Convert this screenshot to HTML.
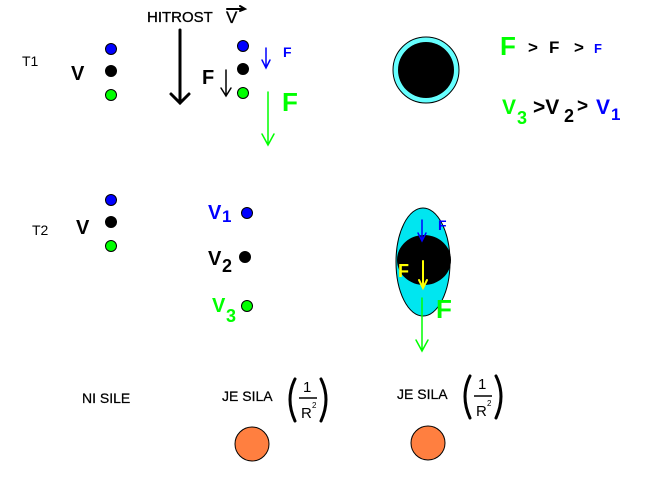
<!DOCTYPE html>
<html><head><meta charset="utf-8"><style>
html,body{margin:0;padding:0;background:#fff;}
svg{display:block;}
text{font-family:"Liberation Sans",Arial,sans-serif;}
</style></head><body>
<svg width="653" height="487" viewBox="0 0 653 487" xmlns="http://www.w3.org/2000/svg">
<rect width="653" height="487" fill="#fff"/>
<g stroke="#000" stroke-width="1">
<circle cx="111" cy="49" r="5.5" fill="#0000ff"/>
<circle cx="111" cy="71" r="5.5" fill="#000"/>
<circle cx="111" cy="95" r="5.5" fill="#00ff00"/>
<circle cx="243" cy="46" r="5.5" fill="#0000ff"/>
<circle cx="243" cy="69" r="5.5" fill="#000"/>
<circle cx="243" cy="93" r="5.5" fill="#00ff00"/>
<circle cx="111" cy="200" r="5.5" fill="#0000ff"/>
<circle cx="111" cy="222" r="5.5" fill="#000"/>
<circle cx="111" cy="246" r="5.5" fill="#00ff00"/>
<circle cx="247" cy="213" r="5.5" fill="#0000ff"/>
<circle cx="245" cy="257" r="5.5" fill="#000"/>
<circle cx="247" cy="306" r="5.5" fill="#00ff00"/>
<circle cx="426" cy="70" r="33" fill="#66ffff"/>
<circle cx="426" cy="70" r="28" fill="#000" stroke="none"/>
<ellipse cx="423" cy="262" rx="27" ry="54" fill="#00e6f0"/>
<ellipse cx="424" cy="260" rx="27" ry="25" fill="#000" stroke="none"/>
<circle cx="252" cy="444" r="17" fill="#ff7f40"/>
<circle cx="428" cy="443" r="17" fill="#ff7f40"/>
</g>
<g fill="none" stroke-linecap="round">
<path d="M180 30 V103 M171 94 L180 103 L189 94" stroke="#000" stroke-width="3"/>
<path d="M226 70 V96 M221 88 L226 96 L231 88" stroke="#000" stroke-width="1.5"/>
<path d="M266 48 V68 M262 60 L266 68 L270 60" stroke="#0000ff" stroke-width="1.5"/>
<path d="M268 92 V145 M262 134 L268 145 L274 134" stroke="#00ff00" stroke-width="1.5"/>
<path d="M422 220 V241 M418 233 L422 241 L426 233" stroke="#0000ff" stroke-width="1.5"/>
<path d="M423 261 V288 M419 280 L423 288 L427 280" stroke="#ffff00" stroke-width="2"/>
<path d="M422 298 V351 M416 340 L422 351 L428 340" stroke="#00ff00" stroke-width="1.5"/>
<path d="M227 9 H245 M240 6 L245 9 L240 11" stroke="#000" stroke-width="2"/>
<!-- parentheses -->
<path d="M295 379 Q285 399 295 421 M321 379 Q331 399 321 421" stroke="#000" stroke-width="3"/>
<path d="M470 376 Q460 396 470 418 M496 376 Q506 396 496 418" stroke="#000" stroke-width="3"/>
</g>
<text x="22" y="66" font-size="14">T1</text>
<text x="71" y="80" font-size="20" font-weight="bold">V</text>
<text x="147" y="22" font-size="15" stroke="#000" stroke-width="0.3">HITROST</text>
<text x="226" y="23" font-size="17" stroke="#000" stroke-width="0.3">V</text>
<text x="202" y="84" font-size="20" font-weight="bold">F</text>
<text x="283" y="57" font-size="14" fill="#0000ff" font-weight="bold">F</text>
<text x="282" y="111" font-size="26" font-weight="bold" fill="#00ff00">F</text>
<text x="500" y="55" font-size="26" font-weight="bold" fill="#00ff00">F</text>
<text x="528" y="53" font-size="17" font-weight="bold">&gt;</text>
<text x="549" y="53" font-size="17" font-weight="bold">F</text>
<text x="574" y="53" font-size="17" font-weight="bold">&gt;</text>
<text x="594" y="53" font-size="13" fill="#0000ff" font-weight="bold">F</text>
<text x="502" y="114" font-size="21" font-weight="bold" fill="#00ff00">V</text>
<text x="517" y="124" font-size="18" font-weight="bold" fill="#00ff00">3</text>
<text x="533" y="114" font-size="21" font-weight="bold">&gt;V</text>
<text x="564" y="122" font-size="18" font-weight="bold">2</text>
<text x="577" y="112" font-size="19" font-weight="bold">&gt;</text>
<text x="596" y="114" font-size="21" font-weight="bold" fill="#0000ff">V</text>
<text x="611" y="120" font-size="17" font-weight="bold" fill="#0000ff">1</text>
<text x="32" y="235" font-size="14">T2</text>
<text x="76" y="234" font-size="20" font-weight="bold">V</text>
<text x="208" y="219" font-size="20" font-weight="bold" fill="#0000ff">V</text>
<text x="222" y="222" font-size="17" font-weight="bold" fill="#0000ff">1</text>
<text x="208" y="265" font-size="20" font-weight="bold">V</text>
<text x="222" y="272" font-size="18" font-weight="bold">2</text>
<text x="212" y="312" font-size="20" font-weight="bold" fill="#00ff00">V</text>
<text x="226" y="322" font-size="18" font-weight="bold" fill="#00ff00">3</text>
<text x="438" y="230" font-size="14" fill="#0000ff" font-weight="bold">F</text>
<text x="398" y="277" font-size="18" font-weight="bold" fill="#ffff00">F</text>
<text x="436" y="318" font-size="26" font-weight="bold" fill="#00ff00">F</text>
<text x="82" y="403" font-size="14" stroke="#000" stroke-width="0.25">NI SILE</text>
<text x="222" y="401" font-size="14" stroke="#000" stroke-width="0.25">JE SILA</text>
<text x="303" y="392" font-size="15">1</text>
<line x1="299" y1="398" x2="317" y2="398" stroke="#000" stroke-width="1.5"/>
<text x="301" y="418" font-size="15">R</text>
<text x="312" y="408" font-size="8">2</text>
<text x="397" y="399" font-size="14" stroke="#000" stroke-width="0.25">JE SILA</text>
<text x="478" y="389" font-size="15">1</text>
<line x1="474" y1="396" x2="492" y2="396" stroke="#000" stroke-width="1.5"/>
<text x="476" y="416" font-size="15">R</text>
<text x="487" y="406" font-size="8">2</text>
</svg>
</body></html>
